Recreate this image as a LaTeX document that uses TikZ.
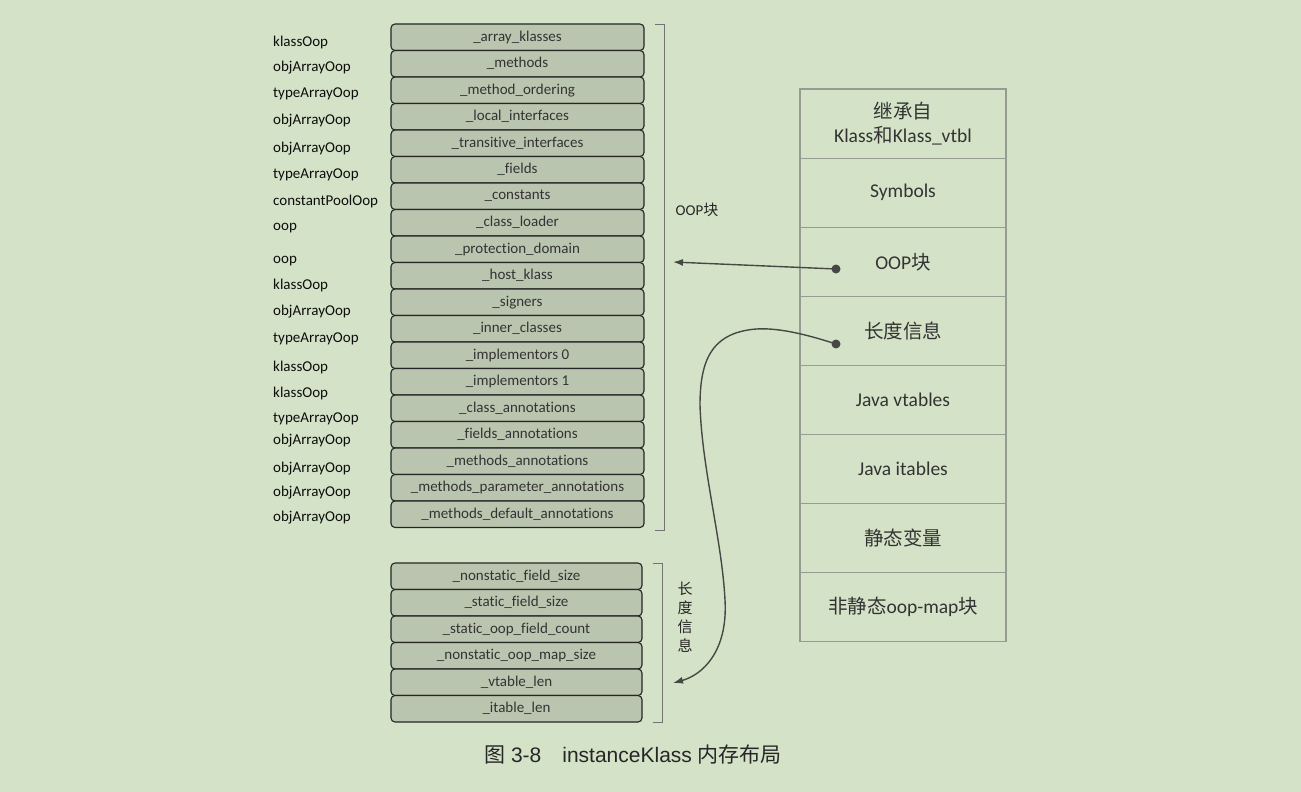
\documentclass[tikz,border=0pt]{standalone}
\usepackage{fontspec}
\setmainfont{Carlito}[Ligatures=NoCommon]
\newfontfamily\cjk{Noto Sans CJK SC}
\newfontfamily\capfont{Liberation Sans}
\usetikzlibrary{arrows.meta}
\definecolor{bgGreen}{RGB}{212,227,199}
\definecolor{slotFill}{RGB}{186,197,176}
\definecolor{cellLine}{RGB}{150,156,146}
\definecolor{inkGray}{RGB}{70,72,70}
\newcommand{\zh}[1]{{\cjk #1}}

\begin{document}
\begin{tikzpicture}[x=1pt,y=-1pt]
	\tikzstyle{slot}=[draw=black!85, line width=1.1pt, fill=slotFill, rounded corners=4pt, minimum width=253pt, minimum height=26.5pt, inner sep=0pt, text=black!80, font=\fontsize{15}{18}\selectfont]
	\tikzstyle{typelab}=[anchor=west, inner sep=0pt, text=black!95, font=\fontsize{15}{18}\selectfont]
	\tikzstyle{cell}=[draw=cellLine, line width=1.1pt, minimum width=206pt, minimum height=69.1pt, align=center, text=black!80, font=\fontsize{19.5}{24}\selectfont]
	\tikzstyle{brace}=[draw=black!55, line width=0.8pt]
	\tikzstyle{link}=[draw=inkGray, line width=1.4pt, -{Latex[length=10pt,width=7pt]}]
	
	\fill[bgGreen] (0,0) rectangle (1301,792);
	\useasboundingbox (0,0) rectangle (1301,792);
	
	% instanceKlass fields, OOP part
	\foreach \slotname [count=\i] in {\_array\_klasses, \_methods, \_method\_ordering, \_local\_interfaces, \_transitive\_interfaces, \_fields, \_constants, \_class\_loader, \_protection\_domain, \_host\_klass, \_signers, \_inner\_classes, \_implementors 0, \_implementors 1, \_class\_annotations, \_fields\_annotations, \_methods\_annotations, \_methods\_parameter\_annotations, \_methods\_default\_annotations}
		\node[slot] (s\i) at (517.5,{24+26.5*(\i-0.5)}) {\slotname};
	
	\foreach \typename/\ty [count=\i] in {klassOop/43, objArrayOop/68, typeArrayOop/94, objArrayOop/121, objArrayOop/149, typeArrayOop/175, constantPoolOop/201, oop/228, oop/261, klassOop/285, objArrayOop/312, typeArrayOop/339, klassOop/367, klassOop/393, typeArrayOop/419, objArrayOop/441, objArrayOop/469, objArrayOop/493, objArrayOop/518}
		\node[typelab] (t\i) at (273,\ty) {\typename};
	
	% length part
	\foreach \slotname [count=\i] in {\_nonstatic\_field\_size, \_static\_field\_size, \_static\_oop\_field\_count, \_nonstatic\_oop\_map\_size, \_vtable\_len, \_itable\_len}
		\node[slot, minimum width=251pt] (l\i) at (516.5,{563+26.5*(\i-0.5)}) {\slotname};
	
	\draw[brace] (655,24) -- (664,24) -- (664,530) -- (655,530);
	\draw[brace] (653,563) -- (662,563) -- (662,722) -- (653,722);
	\node[font=\fontsize{15}{18}\selectfont, text=black!85] (oopblk) at (697,210) {OOP\zh{块}};
	\node[align=center, inner sep=0pt, text=black!85, font=\cjk\fontsize{15}{19}\selectfont] (lenblk) at (685,617) {长\\度\\信\\息};
	
	% right column
	\foreach \celltext [count=\i] in {{\zh{继承自}\\Klass\zh{和}Klass\_vtbl}, {Symbols}, {OOP\zh{块}}, {\zh{长度信息}}, {Java vtables}, {Java itables}, {\zh{静态变量}}, {\zh{非静态}oop-map\zh{块}}}
		\node[cell] (c\i) at (903,{89+69.1*(\i-0.5)}) {\celltext};
	
	\coordinate (d1) at (836,269);
	\coordinate (d2) at (836,344);
	\coordinate (tip1) at (673,262);
	\coordinate (tip2) at (673,683);
	\fill[inkGray] (d1) circle (4.5pt);
	\fill[inkGray] (d2) circle (4.5pt);
	\draw[link] (d1) -- (tip1);
	\draw[link] (d2) .. controls (790,329) and (765,327) .. (748,330)
		.. controls (712,336) and (700,360) .. (700,405)
		.. controls (702,470) and (722,540) .. (725,600)
		.. controls (728,652) and (702,675) .. (tip2);
	
	\node[font=\fontsize{21}{25}\selectfont, text=black!85] (caption) at (633,755) {\zh{图}\capfont{} 3-8\quad instanceKlass \zh{内存布局}};
\end{tikzpicture}
\end{document}
